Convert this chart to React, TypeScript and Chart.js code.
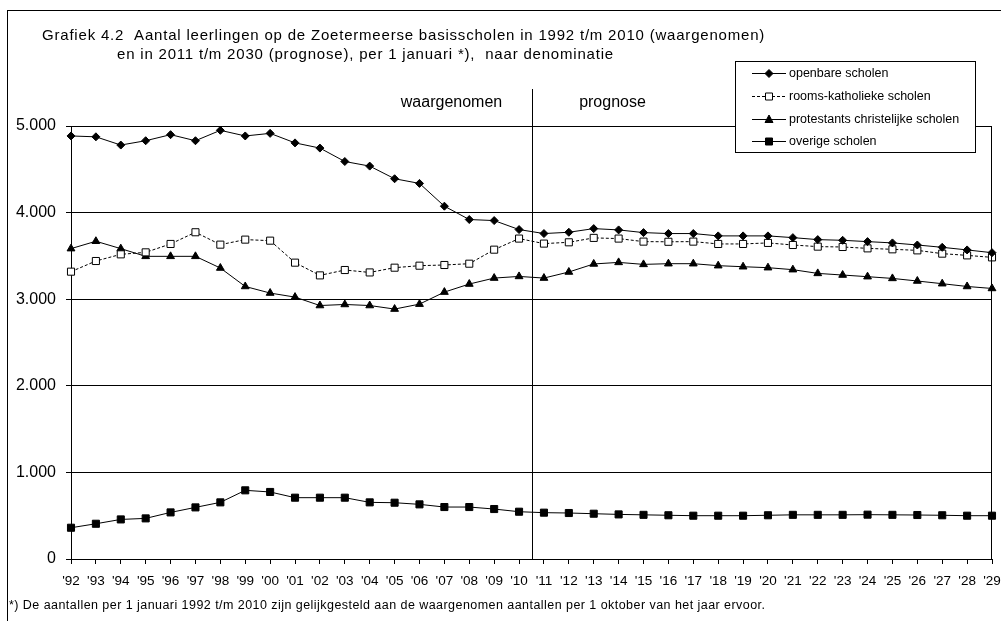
import React, { useEffect, useRef } from 'react';
import { Chart, registerables } from 'chart.js';

Chart.register(...registerables);

const categories = [
  "'92", "'93", "'94", "'95", "'96", "'97", "'98", "'99", "'00", "'01",
  "'02", "'03", "'04", "'05", "'06", "'07", "'08", "'09", "'10", "'11",
  "'12", "'13", "'14", "'15", "'16", "'17", "'18", "'19", "'20", "'21",
  "'22", "'23", "'24", "'25", "'26", "'27", "'28", "'29",
];

const openbare = [
  4885, 4875, 4780, 4830, 4900, 4830, 4950, 4885, 4915, 4805,
  4745, 4590, 4537, 4391, 4337, 4074, 3920, 3908, 3804, 3758,
  3773, 3815, 3800, 3769, 3758, 3758, 3731, 3731, 3731, 3711,
  3688, 3680, 3665, 3650, 3626, 3599, 3569, 3537,
];

const roomsKatholiek = [
  3318, 3441, 3518, 3541, 3638, 3773, 3630, 3688, 3676, 3422,
  3275, 3337, 3309, 3364, 3387, 3395, 3410, 3572, 3700, 3642,
  3657, 3708, 3700, 3665, 3663, 3665, 3638, 3638, 3650, 3626,
  3607, 3603, 3587, 3576, 3564, 3526, 3506, 3483,
];

const protestants = [
  3584, 3669, 3584, 3495, 3495, 3495, 3360, 3147, 3071, 3024,
  2927, 2939, 2927, 2886, 2943, 3082, 3175, 3244, 3263, 3244,
  3314, 3407, 3425, 3402, 3410, 3410, 3387, 3375, 3364, 3341,
  3298, 3279, 3260, 3240, 3210, 3179, 3147, 3124,
];

const overige = [
  361, 407, 457, 469, 538, 596, 654, 793, 774, 708,
  708, 708, 654, 650, 631, 600, 600, 577, 546, 535,
  531, 523, 515, 510, 505, 500, 500, 500, 505, 510,
  510, 510, 512, 510, 508, 505, 500, 500,
];

const seriesNames = [
  'openbare scholen',
  'rooms-katholieke scholen',
  'protestants christelijke scholen',
  'overige scholen',
];

const yTickLabels = ['0', '1.000', '2.000', '3.000', '4.000', '5.000'];

const titleLines = [
  'Grafiek 4.2  Aantal leerlingen op de Zoetermeerse basisscholen in 1992 t/m 2010 (waargenomen)',
  'en in 2011 t/m 2030 (prognose), per 1 januari *),  naar denominatie',
];
const periodLabels = ['waargenomen', 'prognose'];
const footnote =
  '*) De aantallen per 1 januari 1992 t/m 2010 zijn gelijkgesteld aan de waargenomen aantallen per 1 oktober van het jaar ervoor.';

const FONT = "'Liberation Sans', Arial, Helvetica, sans-serif";

function drawMarker(ctx: CanvasRenderingContext2D, style: string, x: number, y: number, fill: string) {
  ctx.save();
  ctx.fillStyle = fill;
  ctx.strokeStyle = '#000';
  ctx.lineWidth = 1;
  ctx.setLineDash([]);
  ctx.beginPath();
  if (style === 'rectRot') {
    ctx.moveTo(x, y - 4);
    ctx.lineTo(x + 4, y);
    ctx.lineTo(x, y + 4);
    ctx.lineTo(x - 4, y);
    ctx.closePath();
  } else if (style === 'triangle') {
    ctx.moveTo(x, y - 4.5);
    ctx.lineTo(x + 4, y + 3);
    ctx.lineTo(x - 4, y + 3);
    ctx.closePath();
  } else {
    ctx.rect(x - 3.5, y - 3.5, 7, 7);
  }
  ctx.fill();
  ctx.stroke();
  ctx.restore();
}

const decorPlugin = {
  id: 'decor',
  beforeDraw(chart: any) {
    const { ctx, width, height } = chart;
    ctx.save();
    ctx.fillStyle = '#fff';
    ctx.fillRect(0, 0, width, height);
    ctx.restore();
  },
  afterDraw(chart: any) {
    const { ctx, chartArea: a, scales } = chart;
    const x = scales.x;
    ctx.save();
    ctx.strokeStyle = '#000';
    ctx.lineWidth = 1;
    ctx.setLineDash([]);

    // outer frame (cropped at right/bottom)
    ctx.strokeRect(7.5, 10.5, 1400, 900);

    // plot area right border
    ctx.beginPath();
    ctx.moveTo(Math.round(a.right) - 0.5, a.top);
    ctx.lineTo(Math.round(a.right) - 0.5, a.bottom);
    ctx.stroke();

    // divider waargenomen / prognose
    const xm = Math.round((x.getPixelForValue(18) + x.getPixelForValue(19)) / 2) + 0.5;
    ctx.beginPath();
    ctx.moveTo(xm, 89);
    ctx.lineTo(xm, a.bottom);
    ctx.stroke();

    ctx.fillStyle = '#000';
    ctx.textBaseline = 'alphabetic';
    ctx.font = `16px ${FONT}`;
    ctx.textAlign = 'center';
    ctx.fillText(periodLabels[0], xm - 81, 107);
    ctx.fillText(periodLabels[1], xm + 80, 107);

    // title
    ctx.textAlign = 'left';
    ctx.font = `15px ${FONT}`;
    (ctx as any).letterSpacing = '0.8px';
    ctx.fillText(titleLines[0], 42, 40);
    ctx.fillText(titleLines[1], 117, 59);

    // footnote
    ctx.font = `12.5px ${FONT}`;
    (ctx as any).letterSpacing = '0.45px';
    ctx.fillText(footnote, 9, 609);
    (ctx as any).letterSpacing = '0px';

    // legend
    const lx = 735.5, ly = 61.5, lw = 240, lh = 91;
    ctx.fillStyle = '#fff';
    ctx.fillRect(lx, ly, lw, lh);
    ctx.strokeStyle = '#000';
    ctx.strokeRect(lx, ly, lw, lh);
    const rows = [73, 96, 118.5, 141];
    const styles = ['rectRot', 'rect', 'triangle', 'rect'];
    const fills = ['#000', '#fff', '#000', '#000'];
    const dashes = [[], [3, 2], [], []];
    ctx.font = `12.5px ${FONT}`;
    ctx.textBaseline = 'middle';
    seriesNames.forEach((name, i) => {
      const ry = Math.round(rows[i]) + 0.5;
      ctx.strokeStyle = '#000';
      ctx.lineWidth = 1;
      ctx.setLineDash(dashes[i]);
      ctx.beginPath();
      ctx.moveTo(752, ry);
      ctx.lineTo(786, ry);
      ctx.stroke();
      ctx.setLineDash([]);
      drawMarker(ctx, styles[i], 769, ry, fills[i]);
      ctx.fillStyle = '#000';
      ctx.textAlign = 'left';
      ctx.fillText(name, 789, ry);
    });
    ctx.restore();
  },
};

export default function App() {
  const ref = useRef<HTMLCanvasElement | null>(null);

  useEffect(() => {
    if (!ref.current) return;
    const common = {
      borderColor: '#000',
      borderWidth: 1,
      pointBorderColor: '#000',
      pointBorderWidth: 1,
      tension: 0,
      fill: false,
    };
    const chart = new Chart(ref.current, {
      type: 'line',
      data: {
        labels: categories,
        datasets: [
          { ...common, label: seriesNames[0], data: openbare, pointStyle: 'rectRot', pointRadius: 4, pointBackgroundColor: '#000' },
          { ...common, label: seriesNames[1], data: roomsKatholiek, borderDash: [3, 2], pointStyle: 'rect', pointRadius: 5, pointBackgroundColor: '#fff' },
          { ...common, label: seriesNames[2], data: protestants, pointStyle: 'triangle', pointRadius: 4.5, pointBackgroundColor: '#000' },
          { ...common, label: seriesNames[3], data: overige, pointStyle: 'rect', pointRadius: 5, pointBackgroundColor: '#000' },
        ],
      },
      options: {
        responsive: false,
        animation: false,
        devicePixelRatio: 1,
        layout: { padding: { top: 126, right: 9, left: 0, bottom: 0 } },
        plugins: {
          legend: { display: false },
          title: { display: false },
          tooltip: { enabled: false },
        },
        scales: {
          x: {
            type: 'category',
            offset: false,
            grid: { display: true, drawOnChartArea: false, drawTicks: true, tickLength: 5, color: '#000', lineWidth: 1 },
            border: { display: true, color: '#000', width: 1 },
            ticks: {
              autoSkip: false,
              maxRotation: 0,
              minRotation: 0,
              color: '#000',
              padding: 9,
              font: { family: FONT, size: 13.5 },
            },
            afterFit(scale: any) {
              scale.height = 62;
              scale.paddingLeft = 0;
              scale.paddingRight = 0;
            },
          },
          y: {
            min: 0,
            max: 5000,
            grid: { color: '#000', lineWidth: 1, drawTicks: true, tickLength: 5 },
            border: { display: true, color: '#000', width: 1 },
            ticks: {
              stepSize: 1000,
              color: '#000',
              padding: 10,
              font: { family: FONT, size: 16 },
              callback: (v: any) => yTickLabels[Math.round(Number(v) / 1000)],
            },
            afterFit(scale: any) {
              scale.width = 71;
              scale.paddingTop = 0;
              scale.paddingBottom = 0;
            },
          },
        },
      },
      plugins: [decorPlugin],
    } as any);
    return () => chart.destroy();
  }, []);

  return (
    <div style={{ position: 'fixed', left: 0, top: 0, width: 1001, height: 621, background: '#fff' }}>
      <canvas ref={ref} width={1001} height={621} style={{ display: 'block', width: 1001, height: 621 }} />
    </div>
  );
}
